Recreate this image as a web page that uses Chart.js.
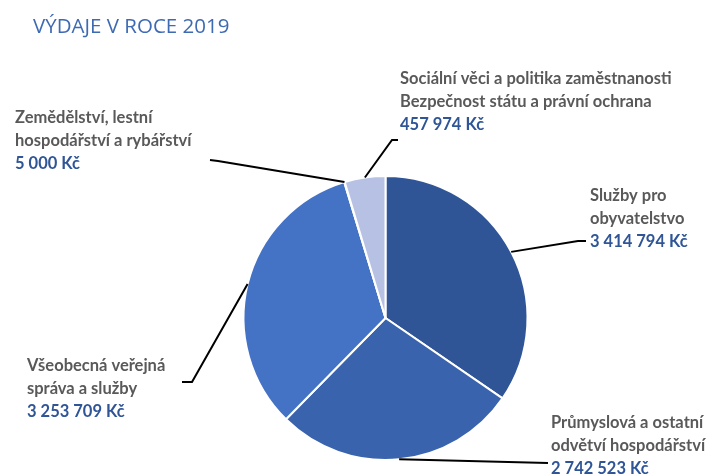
<!DOCTYPE html>
<html>
<head>
<meta charset="utf-8">
<script src="https://cdn.jsdelivr.net/npm/chart.js@4"></script>
<style>
  html, body { margin: 0; padding: 0; background: #fff; }
  #wrap { width: 722px; height: 475px; }
</style>
</head>
<body>
<div id="wrap"><canvas id="pieChart" width="722" height="475"></canvas></div>
<script>
const title = 'VÝDAJE V ROCE 2019';
const categories = [
  ['Služby pro', 'obyvatelstvo'],
  ['Průmyslová a ostatní', 'odvětví hospodářství'],
  ['Všeobecná veřejná', 'správa a služby'],
  ['Zemědělství, lestní', 'hospodářství a rybářství'],
  ['Sociální věci a politika zaměstnanosti', 'Bezpečnost státu a právní ochrana']
];
const values = [3414794, 2742523, 3253709, 5000, 457974];
const colors = ['#2F5597', '#3A63AD', '#4472C4', '#8FAADC', '#B6C1E4'];

// where each label sits: text left x, first line centre y, leader bend points
const labelLayout = [
  { x: 590, y: 196, line: [[578, 241], [586, 241]] },
  { x: 551, y: 423, line: [[548, 463]] },
  { x: 27,  y: 366, line: [[192, 382], [182, 382]] },
  { x: 15,  y: 118, line: [[218, 161], [210, 160]] },
  { x: 400, y: 79,  line: [[392, 140], [398, 140]] }
];

function fmt(v) {
  return v.toString().replace(/\B(?=(\d{3})+(?!\d))/g, ' ') + ' Kč';
}

const labelPlugin = {
  id: 'labels',
  afterDraw(chart) {
    const ctx = chart.ctx;
    ctx.save();
    // title
    ctx.font = '20.5px "Open Sans"';
    ctx.fillStyle = '#3E6AB4';
    ctx.textBaseline = 'middle';
    ctx.textAlign = 'left';
    ctx.fillText(title, 33, 27);

    const arcs = chart.getDatasetMeta(0).data;
    arcs.forEach((arc, i) => {
      const p = arc.getProps(['x', 'y', 'startAngle', 'endAngle', 'outerRadius'], true);
      const mid = (p.startAngle + p.endAngle) / 2;
      const ax = p.x + Math.cos(mid) * p.outerRadius;
      const ay = p.y + Math.sin(mid) * p.outerRadius;
      const lay = labelLayout[i];

      ctx.beginPath();
      ctx.moveTo(ax, ay);
      lay.line.forEach(pt => ctx.lineTo(pt[0], pt[1]));
      ctx.strokeStyle = '#000';
      ctx.lineWidth = 2;
      ctx.stroke();

      ctx.font = 'bold 16.5px Lato';
      ctx.fillStyle = '#595959';
      categories[i].forEach((t, k) => ctx.fillText(t, lay.x, lay.y + k * 23));
      ctx.fillStyle = '#2F5597';
      ctx.fillText(fmt(values[i]), lay.x, lay.y + categories[i].length * 23);
    });
    ctx.restore();
  }
};

const ctx = document.getElementById('pieChart').getContext('2d');
new Chart(ctx, {
  type: 'pie',
  data: {
    labels: categories.map(c => c.join(' ')),
    datasets: [{
      data: values,
      backgroundColor: colors,
      borderColor: '#fff',
      borderWidth: 2
    }]
  },
  options: {
    responsive: false,
    animation: false,
    layout: { padding: { left: 242, top: 175, right: 193, bottom: 14 } },
    plugins: {
      legend: { display: false },
      tooltip: { enabled: false }
    }
  },
  plugins: [labelPlugin]
});
</script>
</body>
</html>
